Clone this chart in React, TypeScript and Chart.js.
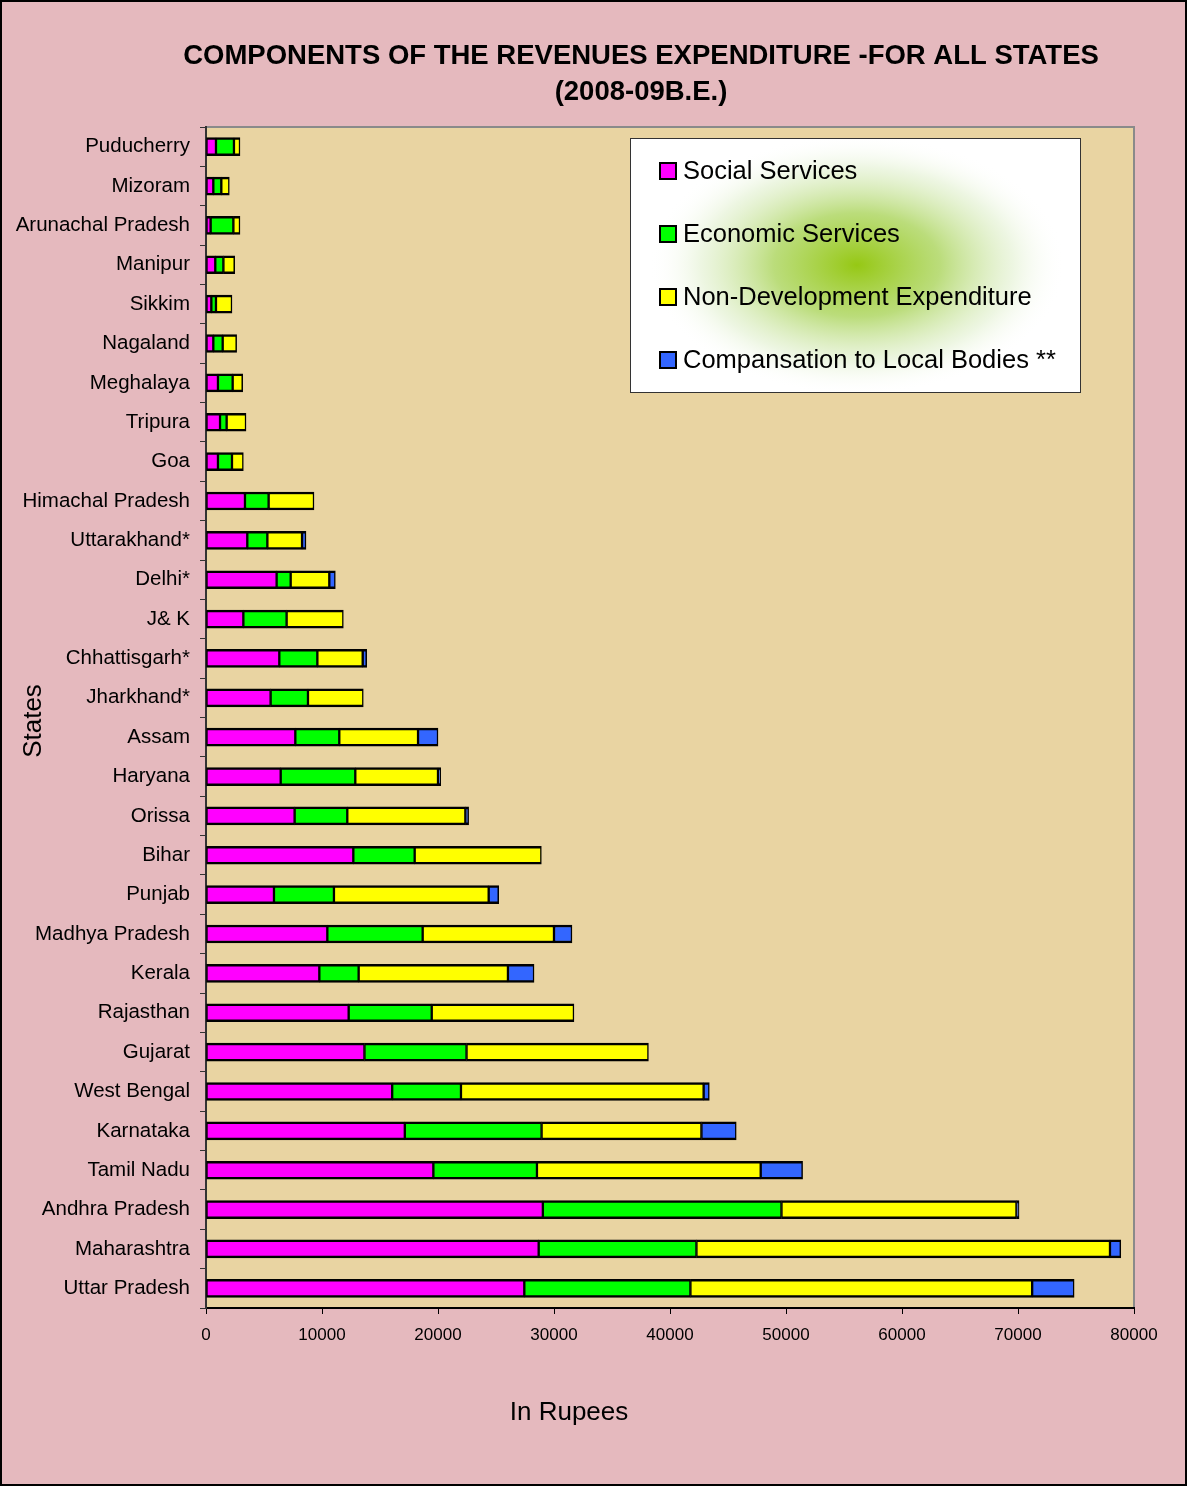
import React, { useEffect, useRef } from "react";
import { Chart, registerables } from "chart.js";

Chart.register(...registerables);

const states = [
  "Puducherry", "Mizoram", "Arunachal Pradesh", "Manipur", "Sikkim", "Nagaland",
  "Meghalaya", "Tripura", "Goa", "Himachal Pradesh", "Uttarakhand*", "Delhi*",
  "J& K", "Chhattisgarh*", "Jharkhand*", "Assam", "Haryana", "Orissa", "Bihar",
  "Punjab", "Madhya Pradesh", "Kerala", "Rajasthan", "Gujarat", "West Bengal",
  "Karnataka", "Tamil Nadu", "Andhra Pradesh", "Maharashtra", "Uttar Pradesh",
];

const socialServices = [
  860, 630, 400, 800, 460, 630, 1030, 1210, 1030, 3360, 3560, 6090, 3220, 6320,
  5570, 7700, 6440, 7640, 12700, 5860, 10460, 9770, 12300, 13660, 16050, 17140,
  19600, 29040, 28680, 27440,
];
const economicServices = [
  1550, 690, 1960, 700, 400, 810, 1270, 570, 1210, 2040, 1730, 1210, 3730, 3280,
  3220, 3790, 6430, 4540, 5290, 5170, 8220, 3390, 7160, 8800, 5930, 11790, 8930,
  20570, 13600, 14320,
];
const nonDevelopment = [
  520, 690, 570, 970, 1380, 1200, 860, 1670, 980, 3910, 2990, 3330, 4890, 3910,
  4770, 6790, 7130, 10180, 10920, 13340, 11320, 12870, 12260, 15680, 20920,
  13780, 19290, 20260, 35650, 29460,
];
const compensationLocal = [
  0, 0, 0, 0, 0, 0, 0, 0, 0, 0, 340, 520, 0, 340, 0, 1720, 230, 280, 0, 860,
  1550, 2250, 0, 0, 490, 3000, 3610, 220, 930, 3620,
];

const seriesNames = [
  "Social Services",
  "Economic Services",
  "Non-Development Expenditure",
  "Compansation to Local Bodies **",
];
const seriesColors = ["#ff00ff", "#00ff00", "#ffff00", "#3366ff"];

const titleLines = [
  "COMPONENTS OF THE REVENUES EXPENDITURE -FOR ALL STATES",
  "(2008-09B.E.)",
];
const xTitle = "In Rupees";
const yTitle = "States";

const FONT = "'Liberation Sans', Arial, Helvetica, sans-serif";

export default function App() {
  const ref = useRef<HTMLCanvasElement | null>(null);

  useEffect(() => {
    document.body.style.margin = "0";
    document.body.style.overflow = "hidden";
    const canvas = ref.current;
    if (!canvas) return;

    const decor = {
      id: "decor",
      beforeDraw(chart: any) {
        const { ctx, width, height, chartArea } = chart;
        ctx.save();
        ctx.fillStyle = "#e5b9be";
        ctx.fillRect(0, 0, width, height);
        ctx.strokeStyle = "#000";
        ctx.lineWidth = 2;
        ctx.strokeRect(1, 1, width - 2, height - 2);
        ctx.fillStyle = "#e9d4a2";
        ctx.fillRect(chartArea.left, chartArea.top, chartArea.right - chartArea.left, chartArea.bottom - chartArea.top);
        ctx.strokeStyle = "#8a8a8a";
        ctx.lineWidth = 2;
        ctx.strokeRect(chartArea.left, chartArea.top, chartArea.right - chartArea.left, chartArea.bottom - chartArea.top);
        ctx.restore();
      },
      afterDraw(chart: any) {
        const { ctx } = chart;
        ctx.save();
        ctx.fillStyle = "#000";
        ctx.textAlign = "center";
        ctx.textBaseline = "middle";
        ctx.font = `bold 27.5px ${FONT}`;
        ctx.fillText(titleLines[0], 641, 56);
        ctx.fillText(titleLines[1], 641, 92);

        ctx.font = `26px ${FONT}`;
        ctx.fillText(xTitle, 569, 1413);
        ctx.save();
        ctx.translate(34, 721);
        ctx.rotate(-Math.PI / 2);
        ctx.fillText(yTitle, 0, 0);
        ctx.restore();

        // legend
        const lx = 630, ly = 138, lw = 450, lh = 254;
        ctx.fillStyle = "#ffffff";
        ctx.fillRect(lx, ly, lw, lh);
        const cx = lx + 227, cy = ly + 127;
        ctx.save();
        ctx.beginPath();
        ctx.rect(lx, ly, lw, lh);
        ctx.clip();
        ctx.translate(cx, cy);
        ctx.scale(1.6, 1);
        const g = ctx.createRadialGradient(0, 0, 0, 0, 0, 130);
        g.addColorStop(0, "rgba(150,200,20,1)");
        g.addColorStop(0.4, "rgba(170,212,90,0.8)");
        g.addColorStop(0.75, "rgba(215,235,190,0.45)");
        g.addColorStop(1, "rgba(255,255,255,0)");
        ctx.fillStyle = g;
        ctx.fillRect(-lw, -lh, lw * 2, lh * 2);
        ctx.restore();
        ctx.strokeStyle = "#333";
        ctx.lineWidth = 1;
        ctx.strokeRect(lx + 0.5, ly + 0.5, lw, lh);

        ctx.textAlign = "left";
        ctx.font = `25.5px ${FONT}`;
        chart.data.datasets.forEach((ds: any, i: number) => {
          const y = 171 + i * 63;
          ctx.fillStyle = ds.backgroundColor;
          ctx.fillRect(660, y - 8, 16, 16);
          ctx.strokeStyle = "#000";
          ctx.lineWidth = 2;
          ctx.strokeRect(660, y - 8, 16, 16);
          ctx.fillStyle = "#000";
          ctx.fillText(ds.label, 683, y + 1);
        });
        ctx.restore();
      },
    };

    const values = [socialServices, economicServices, nonDevelopment, compensationLocal];
    const chart = new Chart(canvas, {
      type: "bar",
      data: {
        labels: states,
        datasets: values.map((v, i) => ({
          label: seriesNames[i],
          data: v,
          backgroundColor: seriesColors[i],
          borderColor: "#000",
          borderWidth: { top: 2.5, bottom: 2.5, left: 1.5, right: 1.5 },
          borderSkipped: false,
          barThickness: 18,
        })),
      },
      options: {
        indexAxis: "y",
        responsive: false,
        animation: false,
        layout: { padding: { top: 127, right: 53, left: 0, bottom: 0 } },
        plugins: {
          legend: { display: false },
          title: { display: false },
          tooltip: { enabled: false },
        },
        scales: {
          x: {
            stacked: true,
            min: 0,
            max: 80000,
            ticks: {
              stepSize: 10000,
              color: "#000",
              font: { family: FONT, size: 17 },
              padding: 11,
              maxRotation: 0,
              callback: (v: any) => String(v),
            },
            grid: {
              drawOnChartArea: false,
              tickLength: 6,
              color: "#000",
              tickColor: "#000",
            },
            border: { color: "#000", width: 2 },
            afterFit(scale: any) {
              scale.height = 178;
            },
          },
          y: {
            stacked: true,
            ticks: {
              color: "#000",
              font: { family: FONT, size: 20.5 },
              padding: 10,
              autoSkip: false,
            },
            grid: {
              offset: true,
              drawOnChartArea: false,
              tickLength: 6,
              tickColor: "#333",
            },
            border: { color: "#333", width: 2 },
            afterFit(scale: any) {
              scale.width = 206;
            },
          },
        },
      },
      plugins: [decor],
    });
    return () => chart.destroy();
  }, []);

  return <canvas ref={ref} width={1187} height={1486} style={{ display: "block" }} />;
}
